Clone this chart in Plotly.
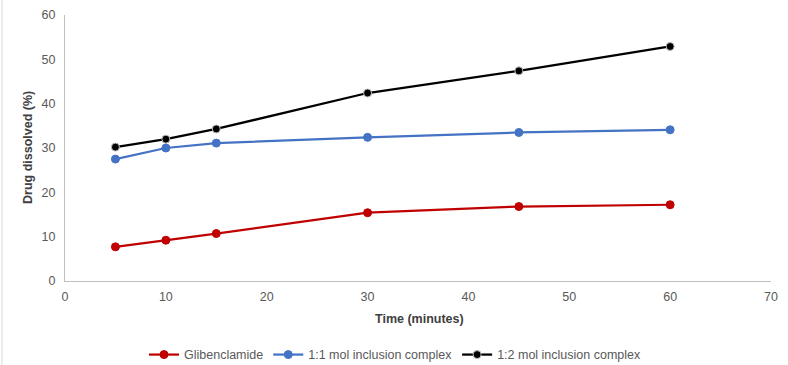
import plotly.graph_objects as go

time_min = [5, 10, 15, 30, 45, 60]
glibenclamide = [7.7, 9.2, 10.7, 15.4, 16.8, 17.2]
complex_1_1 = [27.5, 30.0, 31.1, 32.4, 33.5, 34.1]
complex_1_2 = [30.2, 32.0, 34.3, 42.4, 47.4, 52.9]

series = [
    ("Glibenclamide", glibenclamide, "#c00000"),
    ("1:1 mol inclusion complex", complex_1_1, "#4472c4"),
    ("1:2 mol inclusion complex", complex_1_2, "#000000"),
]

fig = go.Figure()
for name, vals, color in series:
    fig.add_trace(go.Scatter(
        x=time_min, y=vals, name=name, mode="lines+markers",
        line=dict(color=color, width=2.25),
        marker=dict(color=color, size=8,
                    line=dict(color="#bfbfbf" if color == "#000000" else color, width=1)),
    ))

font = "Liberation Sans, Arial, sans-serif"
W, H = 706, 266
fig.update_layout(
    width=788, height=365,
    margin=dict(l=65, r=17, t=15, b=84, autoexpand=False),
    paper_bgcolor="white", plot_bgcolor="white",
    font=dict(family=font, size=12.5, color="#595959"),
    showlegend=True,
    legend=dict(orientation="h", x=(395 - 65) / W, xanchor="center", y=-0.278, yanchor="middle",
                font=dict(size=12.5, color="#595959"), tracegroupgap=0),
    xaxis=dict(range=[0, 70], dtick=10, showgrid=False, zeroline=False, automargin=False,
               showline=True, linecolor="#bfbfbf", linewidth=1, ticks="",
               ticklabelstandoff=4,
               tickfont=dict(size=12.5, color="#595959")),
    yaxis=dict(range=[0, 60], dtick=10, showgrid=False, zeroline=False, automargin=False,
               showline=True, linecolor="#bfbfbf", linewidth=1, ticks="",
               ticklabelstandoff=6,
               tickfont=dict(size=12.5, color="#595959")),
    annotations=[
        dict(text="<b>Time (minutes)</b>", xref="paper", yref="paper",
             x=(419 - 65) / W, y=(281 - 319) / H, xanchor="center", yanchor="middle",
             showarrow=False, font=dict(size=12.5, color="#404040")),
        dict(text="<b>Drug dissolved (%)</b>", xref="paper", yref="paper",
             x=(28 - 65) / W, y=0.5, xanchor="center", yanchor="middle", textangle=-90,
             showarrow=False, font=dict(size=12.5, color="#404040")),
    ],
    shapes=[dict(type="line", xref="paper", yref="paper", x0=-63 / W, x1=-63 / W,
                 y0=-84 / H, y1=1 + 15 / H, line=dict(color="#d9d9d9", width=1))],
)

fig.write_html("out.html", config={"displayModeBar": False},
               post_script="document.body.style.margin='0px';")
